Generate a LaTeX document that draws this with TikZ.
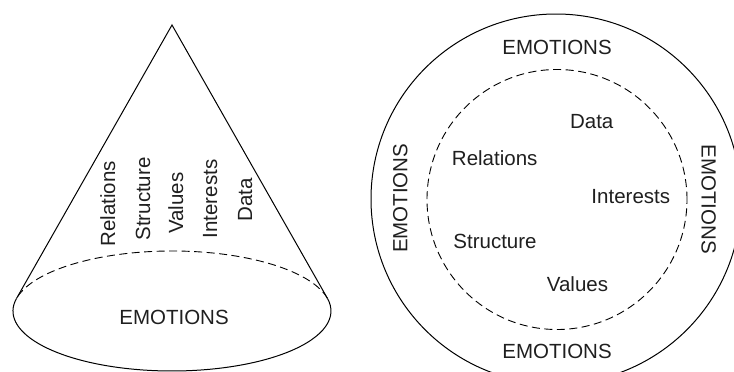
\documentclass[tikz,border=0pt]{standalone}
\usepackage{fontspec}
\setmainfont{Liberation Sans}
\begin{document}
\begin{tikzpicture}[x=1pt,y=1pt,
  line/.style={line width=1pt,black},
  dashline/.style={line width=0.9pt,black,dash pattern=on 8pt off 4.5pt},
  lbl/.style={inner sep=0pt,anchor=base,text=black!88,font=\fontsize{20.5}{24}\selectfont},
  up/.style={lbl,rotate=90},
  down/.style={lbl,rotate=-90}]
\useasboundingbox (0,0) rectangle (734,-372);
\clip (0,0) rectangle (734,-372);
% ---- cone ----
\coordinate (apex) at (172,-25);
\coordinate (ec) at (172,-311);
\coordinate (tl) at (16.54,-298.41);
\coordinate (tr) at (327.46,-298.41);
\draw[line] (tl) -- (apex) -- (tr);
\draw[dashline] (tr) arc[start angle=12.11,end angle=167.89,x radius=159,y radius=60];
\draw[line] (tl) arc[start angle=167.89,end angle=372.11,x radius=159,y radius=60];
\node[up] (crel) at (115,-204) {Relations};
\node[up] (cstr) at (150,-199) {Structure};
\node[up] (cval) at (183,-203) {Values};
\node[up] (cint) at (217,-199) {Interests};
\node[up] (cdat) at (252,-200) {Data};
\node[lbl] (cemo) at (174,-324.3) {EMOTIONS};
% ---- circles ----
\coordinate (oc) at (556,-199);
\coordinate (ic) at (557,-199.5);
\draw[line] (oc) circle[radius=185];
\draw[dashline] (ic) circle[radius=130];
\node[lbl] (etop) at (557,-54) {EMOTIONS};
\node[lbl] (ebot) at (557,-358) {EMOTIONS};
\node[up] (eleft) at (407.3,-198.3) {EMOTIONS};
\node[down] (eright) at (701.7,-199) {EMOTIONS};
\node[lbl] (rdat) at (591.7,-128.3) {Data};
\node[lbl] (rrel) at (494.7,-165.7) {Relations};
\node[lbl] (rint) at (630.8,-203.3) {Interests};
\node[lbl] (rstr) at (495,-248.3) {Structure};
\node[lbl] (rval) at (577.5,-291.7) {Values};
\end{tikzpicture}
\end{document}
